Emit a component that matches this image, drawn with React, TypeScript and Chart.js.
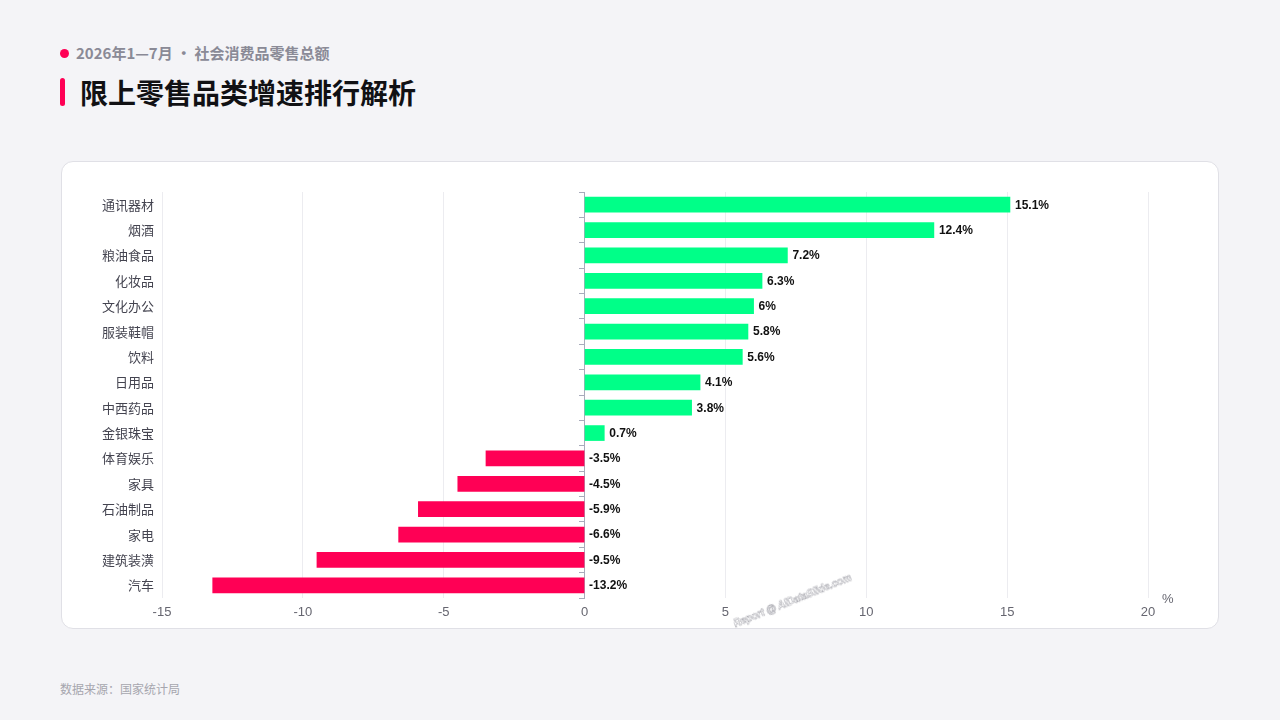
import React, { useEffect, useRef } from "react";
import { Chart, registerables } from "chart.js";

Chart.register(...registerables);

const categories = ["通讯器材", "烟酒", "粮油食品", "化妆品", "文化办公", "服装鞋帽", "饮料", "日用品", "中西药品", "金银珠宝", "体育娱乐", "家具", "石油制品", "家电", "建筑装潢", "汽车"];
const growth = [15.1, 12.4, 7.2, 6.3, 6, 5.8, 5.6, 4.1, 3.8, 0.7, -3.5, -4.5, -5.9, -6.6, -9.5, -13.2];
const xMin = -15;
const xMax = 20;
const xStep = 5;
const unitLabel = "%";

const POS = "#00ff88";
const NEG = "#ff0055";
const FONT = "'Liberation Sans', Arial, 'Noto Sans CJK SC', sans-serif";
const CJK = "'Noto Sans CJK SC', 'Noto Sans', sans-serif";

const labelPlugin = {
  id: "barLabels",
  afterDatasetsDraw(chart: any) {
    const ctx = chart.ctx;
    const meta = chart.getDatasetMeta(0);
    ctx.save();
    ctx.font = `bold 12px ${FONT}`;
    ctx.fillStyle = "#111111";
    ctx.textAlign = "left";
    ctx.textBaseline = "middle";
    meta.data.forEach((bar: any, i: number) => {
      const x = Math.max(bar.x, bar.base) + 5;
      ctx.fillText(`${growth[i]}%`, x, bar.y + 0.5);
    });
    const area = chart.chartArea;
    ctx.font = `13px ${FONT}`;
    ctx.fillStyle = "#666670";
    ctx.textAlign = "left";
    ctx.textBaseline = "middle";
    ctx.fillText(unitLabel, area.right + 14, area.bottom + 1);
    ctx.restore();
  },
};

export default function App() {
  const ref = useRef<HTMLCanvasElement>(null);
  useEffect(() => {
    if (!ref.current) return;
    const chart = new Chart(ref.current, {
      type: "bar",
      data: {
        labels: categories,
        datasets: [
          {
            data: growth,
            backgroundColor: growth.map((v) => (v >= 0 ? POS : NEG)),
            borderWidth: 0,
            barThickness: 15,
          },
        ],
      },
      options: {
        indexAxis: "y",
        animation: false,
        responsive: false,
        maintainAspectRatio: false,
        layout: { padding: { left: 20, right: 70, top: 30, bottom: 11 } },
        plugins: { legend: { display: false }, tooltip: { enabled: false } },
        scales: {
          x: {
            type: "linear",
            min: xMin,
            max: xMax,
            ticks: { stepSize: xStep, color: "#666670", font: { size: 13, family: FONT }, padding: 7 },
            grid: { color: "#ececf0", drawTicks: false, lineWidth: 1 },
            border: { display: false },
            afterFit: (s: any) => { s.height = 19; },
          },
          y: {
            type: "category",
            ticks: { color: "#444450", font: { size: 13, family: CJK }, padding: 8 },
            grid: { display: false, drawTicks: false },
            border: { display: false },
            afterFit: (s: any) => { s.width = 80; },
          },
          y2: {
            type: "category",
            position: { x: 0 } as any,
            labels: categories,
            offset: true,
            ticks: { display: false },
            grid: { drawOnChartArea: false, tickLength: 5, color: "#a8abbb", offset: true },
            border: { display: true, color: "#a8abbb", width: 1 },
          },
        },
      } as any,
      plugins: [labelPlugin],
    });
    return () => chart.destroy();
  }, []);

  return (
    <div style={{ position: "fixed", left: 0, top: 0, width: 1280, height: 720, background: "#f4f4f7", fontFamily: CJK, overflow: "hidden" }}>
      <div style={{ position: "absolute", left: 60, top: 49, width: 9, height: 9, borderRadius: "50%", background: NEG }} />
      <div style={{ position: "absolute", left: 76, top: 42, fontSize: 15, fontWeight: 700, color: "#8a8a96", lineHeight: "22px", whiteSpace: "nowrap" }}>
        2026年1—7月 · 社会消费品零售总额
      </div>
      <div style={{ position: "absolute", left: 60, top: 78, width: 5, height: 28, borderRadius: 3, background: NEG }} />
      <div style={{ position: "absolute", left: 80, top: 72, fontSize: 28, fontWeight: 700, color: "#111114", lineHeight: "40px", whiteSpace: "nowrap" }}>
        限上零售品类增速排行解析
      </div>
      <div style={{ position: "absolute", left: 61, top: 161, width: 1156, height: 466, background: "#ffffff", border: "1px solid #e0e0e6", borderRadius: 12 }} />
      <canvas ref={ref} width={1156} height={466} style={{ position: "absolute", left: 62, top: 162, width: 1156, height: 466 }} />
      <div
        style={{
          position: "absolute",
          left: 732,
          top: 619,
          fontSize: 10,
          fontWeight: 700,
          fontStyle: "italic",
          fontFamily: FONT,
          color: "#ffffff",
          WebkitTextStroke: "0.5px #a0a0a8",
          transform: "rotate(-22deg)",
          transformOrigin: "left top",
          whiteSpace: "nowrap",
        }}
      >
        Report @ AIDataSlide.com
      </div>
      <div style={{ position: "absolute", left: 60, top: 680, fontSize: 12, color: "#a6a6ae", lineHeight: "18px", whiteSpace: "nowrap" }}>
        数据来源：国家统计局
      </div>
    </div>
  );
}
